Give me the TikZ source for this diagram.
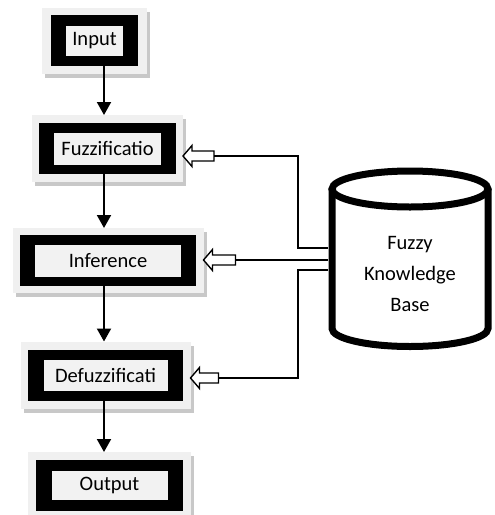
\documentclass[tikz,border=0pt]{standalone}
\usepackage{fontspec}
\setmainfont{Carlito}
\usetikzlibrary{arrows.meta,shadows}
\definecolor{boxgray}{HTML}{F0F0F0}
\definecolor{shadowgray}{HTML}{C8C8C8}
\definecolor{innergray}{HTML}{F2F2F2}
\tikzset{
  outerbox/.style={fill=boxgray, draw=none, inner sep=0pt, outer sep=0pt,
    drop shadow={shadow xshift=3pt, shadow yshift=-4pt, fill=shadowgray, opacity=1}},
  blackbox/.style={fill=black, draw=none, inner sep=0pt, outer sep=0pt},
  innerbox/.style={fill=innergray, draw=none, inner sep=0pt, outer sep=0pt,
    font=\fontsize{20.5}{24}\selectfont},
  flow/.style={line width=2pt, -{Triangle[length=13pt,width=14pt]}},
  conn/.style={line width=1.3pt},
  hollowline/.style={line width=1.4pt, fill=white, line join=miter},
  pics/hollow/.style={code={
    \draw[hollowline] (0,0) -- (9,-10.5) -- (9,-5) -- (#1,-5) -- (#1,5) -- (9,5) -- (9,10.5) -- cycle;}},
}
\newcommand\stagebox[8]{%
  % #1 name, #2 centre, #3 gw, #4 gh, #5 bw, #6 bh, #7 iw/ih, #8 text
  \node[outerbox, minimum width=#3pt, minimum height=#4pt] (#1bg) at (#2) {};
  \node[blackbox, minimum width=#5pt, minimum height=#6pt] (#1) at (#2) {};
  \node[innerbox, #7] (#1txt) at (#2) {#8};
}
\begin{document}
\begin{tikzpicture}[x=1pt, y=-1pt]
\clip (0,0) rectangle (495,515);
\fill[white] (0,0) rectangle (495,515);

% stages
\stagebox{input}{94.5,40.5}{105}{66}{87}{51}{minimum width=57pt, minimum height=30pt}{Input}
\stagebox{fuzz}{107.5,148.5}{151}{67}{137}{51}{minimum width=107pt, minimum height=32pt}{Fuzzificatio}
\stagebox{inf}{108,260.5}{191}{65}{176}{51}{minimum width=146pt, minimum height=32pt}{Inference}
\stagebox{defuzz}{105.5,375}{170}{67}{155}{51}{minimum width=124pt, minimum height=31pt}{Defuzzificati}
\stagebox{output}{109.5,485}{163}{66}{147}{51}{minimum width=116pt, minimum height=29pt}{Output}

% main flow
\coordinate (ax) at (104,0);
\draw[flow] (input.south -| ax) -- (fuzzbg.north -| ax);
\draw[flow] (fuzz.south -| ax) -- (infbg.north -| ax);
\draw[flow] (inf.south -| ax) -- (defuzzbg.north -| ax);
\draw[flow] (defuzz.south -| ax) -- (outputbg.north -| ax);

% knowledge base cylinder
\draw[line width=7pt, fill=white] (332,189) -- (332,328.5)
  arc[start angle=180, end angle=0, x radius=78, y radius=18] -- (488,189);
\draw[line width=7pt, fill=white] (410,189) ellipse [x radius=78, y radius=18];
\node[align=center, font=\fontsize{20.5}{31}\selectfont] (kb) at (410,274) {Fuzzy\\Knowledge\\Base};
\coordinate (kbA) at (328,248);
\coordinate (kbB) at (328,260);
\coordinate (kbC) at (328,270);
\coordinate (bus) at (298,0);

% hollow arrows into stages
\coordinate (ftip) at (fuzzbg.east |- 0,156);
\coordinate (itip) at (infbg.east |- 0,260);
\coordinate (dtip) at (defuzzbg.east |- 0,378);
\pic at (ftip) {hollow=31};
\pic at (itip) {hollow=32};
\pic at (dtip) {hollow=28};
\coordinate (ftail) at ([xshift=31pt]ftip);
\coordinate (itail) at ([xshift=32pt]itip);
\coordinate (dtail) at ([xshift=28pt]dtip);

% connectors from knowledge base
\draw[conn] (ftail) -| (bus |- kbA) -- (kbA);
\draw[conn] (itail) -- (kbB);
\draw[conn] (kbC) -- (bus |- kbC) |- (dtail);
\end{tikzpicture}
\end{document}
